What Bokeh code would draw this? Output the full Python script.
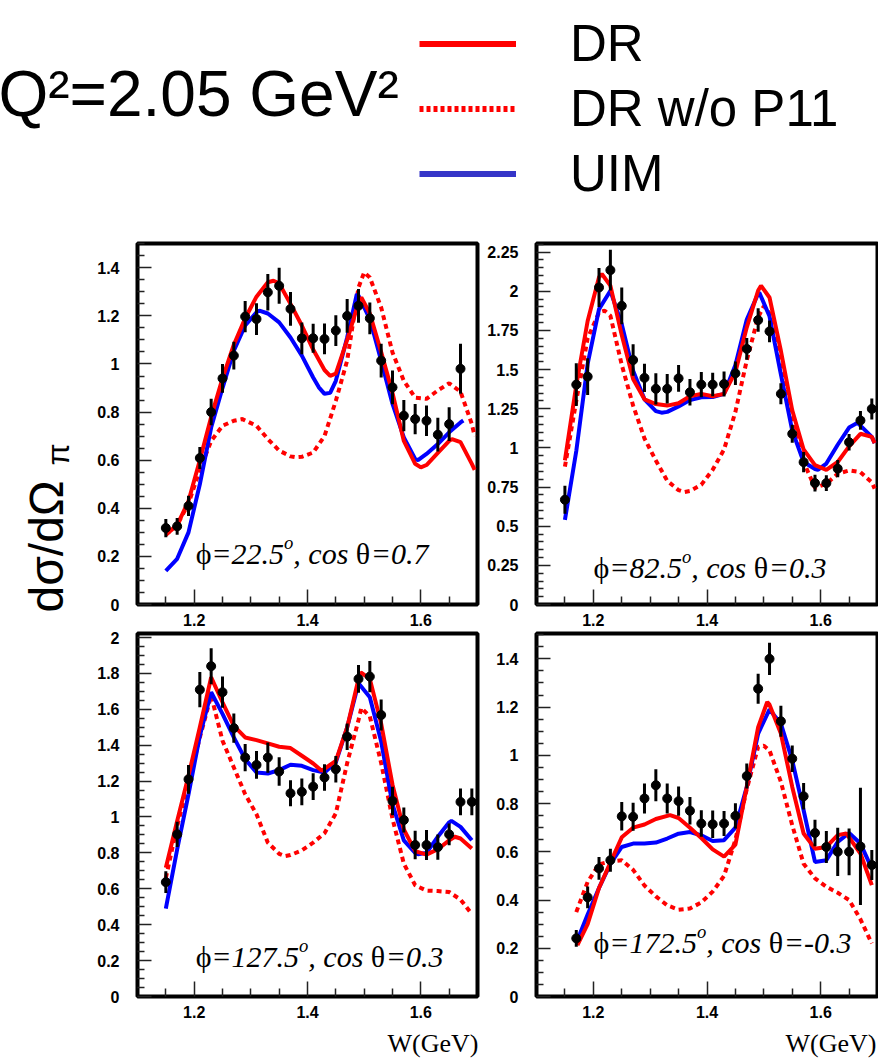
import numpy as np
from bokeh.plotting import figure
from bokeh.layouts import column, row
from bokeh.models import Range1d, FixedTicker, CustomJSTickFormatter, Legend, LegendItem
from bokeh.core.properties import value
from bokeh.embed import file_html
from bokeh.resources import INLINE

# ---------------- texts ----------------
title_text = "Q\u00b2=2.05 GeV\u00b2"
legend_labels = ["DR", "DR w/o P11", "UIM"]
x_title = "W(GeV)"
y_title = "d\u03c3/d\u03a9"
y_title_sub = "\u03c0"
phi_labels = ["22.5", "82.5", "127.5", "172.5"]
cos_labels = ["0.7", "0.3", "0.3", "-0.3"]

x_major_ticks = [1.2, 1.4, 1.6]
x_minor_ticks = [1.15, 1.25, 1.3, 1.35, 1.45, 1.5, 1.55, 1.65]

# ---------------- data: top-left (phi=22.5, cos=0.7) ----------------
w_pts_tl = [1.15,1.17,1.19,1.21,1.23,1.25,1.27,1.29,1.31,1.33,1.35,1.37,1.39,1.41,1.43,1.45,1.47,1.49,1.51,1.53,1.55,1.57,1.59,1.61,1.63,1.65,1.67]
y_pts_tl = [0.318,0.325,0.41,0.609,0.80,0.94,1.035,1.197,1.187,1.298,1.325,1.229,1.107,1.107,1.104,1.139,1.20,1.242,1.19,1.014,0.903,0.785,0.771,0.764,0.706,0.75,0.98]
e_pts_tl = [0.038,0.035,0.042,0.046,0.055,0.06,0.058,0.065,0.066,0.076,0.075,0.07,0.066,0.06,0.064,0.064,0.07,0.07,0.066,0.07,0.07,0.065,0.063,0.063,0.07,0.07,0.104]
w_tl_dr = [1.15,1.17,1.19,1.21,1.23,1.25,1.27,1.29,1.31,1.33,1.34,1.35,1.37,1.39,1.41,1.43,1.44,1.45,1.47,1.49,1.495,1.51,1.53,1.55,1.57,1.59,1.60,1.61,1.63,1.65,1.655,1.67,1.69,1.695]
y_tl_dr = [0.29,0.33,0.43,0.60,0.78,0.94,1.08,1.19,1.28,1.34,1.346,1.335,1.25,1.16,1.06,0.975,0.951,0.96,1.10,1.255,1.277,1.21,1.05,0.88,0.68,0.585,0.57,0.58,0.63,0.68,0.688,0.675,0.585,0.56]
w_tl_uim = [1.15,1.17,1.19,1.21,1.23,1.25,1.27,1.29,1.31,1.315,1.33,1.35,1.37,1.39,1.41,1.42,1.43,1.44,1.45,1.47,1.487,1.49,1.51,1.53,1.55,1.57,1.59,1.595,1.61,1.63,1.65,1.67,1.675]
y_tl_uim = [0.14,0.19,0.30,0.50,0.736,0.90,1.055,1.16,1.215,1.222,1.21,1.173,1.11,1.035,0.944,0.903,0.876,0.88,0.93,1.11,1.29,1.284,1.187,1.014,0.834,0.695,0.605,0.60,0.626,0.667,0.716,0.757,0.765]
w_tl_nop11 = [1.15,1.17,1.19,1.21,1.23,1.25,1.27,1.285,1.31,1.33,1.35,1.37,1.38,1.39,1.41,1.43,1.45,1.47,1.49,1.50,1.51,1.53,1.55,1.57,1.59,1.61,1.63,1.65,1.67,1.69,1.695]
y_tl_nop11 = [0.29,0.33,0.42,0.56,0.68,0.743,0.764,0.771,0.743,0.688,0.64,0.616,0.612,0.614,0.632,0.70,0.847,1.014,1.318,1.381,1.36,1.235,1.048,0.93,0.86,0.855,0.89,0.92,0.885,0.75,0.70]

# ---------------- data: top-right (phi=82.5, cos=0.3) ----------------
w_pts_tr = [1.15,1.17,1.19,1.21,1.23,1.25,1.27,1.29,1.31,1.33,1.35,1.37,1.39,1.41,1.43,1.45,1.47,1.49,1.51,1.53,1.55,1.57,1.59,1.61,1.63,1.65,1.67,1.69]
y_pts_tr = [0.669,1.404,1.455,2.024,2.135,1.907,1.561,1.447,1.377,1.377,1.444,1.355,1.404,1.404,1.408,1.476,1.632,1.816,1.744,1.345,1.09,0.909,0.775,0.775,0.867,1.036,1.175,1.249]
e_pts_tr = [0.09,0.136,0.117,0.125,0.13,0.117,0.10,0.09,0.10,0.094,0.085,0.085,0.08,0.075,0.08,0.075,0.07,0.075,0.07,0.067,0.058,0.064,0.053,0.05,0.055,0.053,0.06,0.067]
w_tr_dr = [1.15,1.17,1.19,1.21,1.215,1.23,1.25,1.27,1.29,1.31,1.33,1.35,1.37,1.39,1.41,1.43,1.45,1.47,1.49,1.495,1.51,1.53,1.55,1.57,1.59,1.61,1.63,1.65,1.67,1.69,1.695]
y_tr_dr = [0.92,1.40,1.81,2.09,2.11,2.036,1.72,1.44,1.31,1.28,1.27,1.285,1.33,1.345,1.33,1.345,1.485,1.77,2.005,2.035,1.96,1.62,1.24,0.99,0.89,0.86,0.91,1.01,1.09,1.07,1.03]
w_tr_uim = [1.15,1.17,1.19,1.21,1.23,1.25,1.27,1.29,1.31,1.32,1.33,1.35,1.37,1.39,1.41,1.43,1.45,1.47,1.49,1.492,1.51,1.53,1.55,1.57,1.59,1.595,1.61,1.63,1.65,1.665,1.69,1.695]
y_tr_uim = [0.54,0.98,1.536,1.886,2.003,1.79,1.493,1.31,1.235,1.225,1.23,1.265,1.305,1.323,1.325,1.345,1.53,1.82,1.985,1.992,1.84,1.47,1.11,0.91,0.865,0.86,0.90,1.02,1.13,1.16,1.07,1.03]
w_tr_nop11 = [1.15,1.17,1.19,1.21,1.22,1.23,1.25,1.27,1.29,1.31,1.33,1.35,1.36,1.37,1.39,1.41,1.43,1.45,1.47,1.49,1.50,1.51,1.53,1.55,1.57,1.59,1.61,1.63,1.65,1.67,1.69,1.695]
y_tr_nop11 = [0.88,1.30,1.70,1.865,1.876,1.844,1.53,1.27,1.06,0.92,0.79,0.73,0.718,0.725,0.765,0.86,0.99,1.23,1.56,1.835,1.905,1.86,1.555,1.18,0.91,0.745,0.77,0.835,0.856,0.845,0.78,0.74]

# ---------------- data: bottom-left (phi=127.5, cos=0.3) ----------------
w_pts_bl = [1.15,1.17,1.19,1.21,1.23,1.25,1.27,1.29,1.31,1.33,1.35,1.37,1.39,1.41,1.43,1.45,1.47,1.49,1.51,1.53,1.55,1.57,1.59,1.61,1.63,1.65,1.67,1.69]
y_pts_bl = [0.637,0.903,1.21,1.709,1.84,1.695,1.495,1.331,1.29,1.331,1.253,1.132,1.14,1.169,1.22,1.266,1.447,1.769,1.782,1.568,1.089,0.983,0.844,0.844,0.832,0.903,1.084,1.084]
e_pts_bl = [0.06,0.07,0.08,0.098,0.10,0.087,0.081,0.076,0.077,0.084,0.079,0.072,0.074,0.074,0.074,0.074,0.074,0.077,0.087,0.086,0.079,0.07,0.079,0.084,0.07,0.06,0.074,0.074]
w_bl_dr = [1.15,1.17,1.19,1.21,1.23,1.25,1.27,1.29,1.31,1.33,1.35,1.37,1.39,1.41,1.425,1.45,1.47,1.49,1.494,1.51,1.53,1.55,1.57,1.59,1.61,1.63,1.65,1.66,1.67,1.69]
y_bl_dr = [0.717,0.978,1.23,1.50,1.778,1.639,1.508,1.443,1.428,1.41,1.391,1.384,1.341,1.298,1.257,1.313,1.499,1.769,1.806,1.769,1.52,1.18,0.93,0.81,0.79,0.82,0.87,0.89,0.88,0.825]
w_bl_uim = [1.15,1.17,1.19,1.21,1.23,1.25,1.27,1.29,1.31,1.33,1.35,1.37,1.39,1.41,1.43,1.45,1.47,1.49,1.51,1.53,1.55,1.57,1.59,1.595,1.61,1.63,1.65,1.654,1.67,1.69]
y_bl_uim = [0.49,0.82,1.126,1.452,1.695,1.574,1.443,1.322,1.248,1.242,1.261,1.291,1.285,1.261,1.248,1.304,1.499,1.745,1.667,1.42,1.07,0.87,0.80,0.792,0.80,0.89,0.97,0.978,0.945,0.87]
w_bl_nop11 = [1.15,1.17,1.19,1.21,1.23,1.25,1.27,1.29,1.31,1.33,1.35,1.36,1.37,1.39,1.41,1.43,1.45,1.47,1.49,1.495,1.51,1.53,1.55,1.57,1.59,1.61,1.63,1.65,1.67,1.69]
y_bl_nop11 = [0.66,0.95,1.19,1.443,1.676,1.425,1.276,1.127,1.015,0.857,0.795,0.782,0.788,0.814,0.857,0.91,1.02,1.30,1.54,1.607,1.56,1.30,0.99,0.74,0.62,0.59,0.587,0.582,0.54,0.46]

# ---------------- data: bottom-right (phi=172.5, cos=-0.3) ----------------
w_pts_br = [1.17,1.19,1.21,1.23,1.25,1.27,1.29,1.31,1.33,1.35,1.37,1.39,1.41,1.43,1.45,1.47,1.49,1.51,1.53,1.55,1.57,1.59,1.61,1.63,1.65,1.67,1.69]
y_pts_br = [0.241,0.411,0.531,0.565,0.747,0.745,0.821,0.876,0.821,0.81,0.77,0.717,0.714,0.717,0.749,0.914,1.276,1.40,1.141,0.986,0.83,0.678,0.62,0.60,0.60,0.622,0.545]
e_pts_br = [0.035,0.045,0.047,0.048,0.059,0.058,0.062,0.066,0.062,0.061,0.057,0.055,0.057,0.052,0.052,0.052,0.062,0.067,0.064,0.055,0.055,0.055,0.066,0.10,0.097,0.243,0.062]
w_br_dr = [1.172,1.19,1.21,1.23,1.25,1.27,1.29,1.31,1.335,1.35,1.37,1.39,1.41,1.43,1.45,1.47,1.49,1.506,1.51,1.53,1.55,1.57,1.59,1.61,1.63,1.645,1.67,1.69]
y_br_dr = [0.213,0.30,0.45,0.555,0.66,0.70,0.713,0.736,0.752,0.74,0.70,0.657,0.61,0.58,0.63,0.87,1.117,1.221,1.21,1.09,0.869,0.676,0.613,0.62,0.669,0.676,0.593,0.462]
w_br_uim = [1.172,1.19,1.21,1.23,1.25,1.27,1.29,1.31,1.33,1.35,1.37,1.39,1.41,1.43,1.45,1.47,1.49,1.51,1.53,1.55,1.57,1.59,1.61,1.63,1.65,1.67,1.69]
y_br_uim = [0.234,0.34,0.45,0.55,0.62,0.634,0.634,0.638,0.655,0.675,0.682,0.668,0.645,0.648,0.70,0.87,1.09,1.19,1.131,0.979,0.772,0.558,0.565,0.641,0.678,0.634,0.531]
w_br_nop11 = [1.17,1.19,1.21,1.23,1.25,1.27,1.29,1.31,1.33,1.35,1.37,1.39,1.41,1.43,1.45,1.47,1.49,1.50,1.51,1.53,1.55,1.57,1.59,1.61,1.63,1.65,1.67,1.69]
y_br_nop11 = [0.35,0.475,0.548,0.56,0.565,0.525,0.46,0.415,0.378,0.36,0.365,0.39,0.435,0.50,0.65,0.86,1.035,1.04,1.02,0.89,0.71,0.55,0.49,0.455,0.43,0.40,0.32,0.22]

# ---------------- style ----------------
RED = "#ff0000"
BLUE = "#0000ff"
LEG_BLUE = "#3535c8"
SANS = "Liberation Sans"
SERIF = "Liberation Serif"
BASE_FIX = 0.34  # alphabetic-baseline correction of the svg backend (in em)

fmt_code = r'return tick.toFixed(2).replace(/\.?0+$/, "");'


def blank_fig(width, height):
    f = figure(width=width, height=height, x_range=Range1d(0, width), y_range=Range1d(0, height),
               output_backend="svg", toolbar_location=None, x_axis_type=None, y_axis_type=None,
               title=None, min_border_left=0, min_border_right=0, min_border_top=0, min_border_bottom=0)
    f.grid.visible = False
    f.outline_line_color = None
    f.background_fill_color = "white"
    f.border_fill_color = "white"
    return f


def make_panel(width, height, mbl, mbr, mbt, mbb, y_end, y_major):
    p = figure(width=width, height=height, x_range=Range1d(1.1, 1.7), y_range=Range1d(0, y_end),
               output_backend="svg", toolbar_location=None, title=None,
               min_border_left=mbl, min_border_right=mbr, min_border_top=mbt, min_border_bottom=mbb)
    p.grid.visible = False
    p.background_fill_color = "white"
    p.border_fill_color = "white"
    p.outline_line_color = "black"
    p.outline_line_width = 4
    p.outline_line_alpha = 1.0
    y_minor = [round(v, 3) for v in np.arange(0, y_end + 1e-9, 0.05) if min(abs(v - t) for t in y_major) > 1e-6]
    p.xaxis.ticker = FixedTicker(ticks=x_major_ticks, minor_ticks=x_minor_ticks)
    p.yaxis.ticker = FixedTicker(ticks=y_major, minor_ticks=y_minor)
    for ax in (p.xaxis[0], p.yaxis[0]):
        ax.axis_line_color = None
        ax.major_tick_out = 0
        ax.minor_tick_out = 0
        ax.major_tick_line_color = "#222222"
        ax.minor_tick_line_color = "#222222"
        ax.major_tick_line_width = 1.5
        ax.minor_tick_line_width = 1.5
        ax.major_label_text_font = SANS
        ax.major_label_text_font_style = "bold"
        ax.major_label_text_font_size = "16px"
        ax.major_label_text_color = "black"
        ax.formatter = CustomJSTickFormatter(code=fmt_code)
    p.xaxis.major_tick_in = 15
    p.xaxis.minor_tick_in = 8
    p.yaxis.major_tick_in = 14
    p.yaxis.minor_tick_in = 7
    p.xaxis.major_label_standoff = 9
    p.yaxis.major_label_standoff = 18
    return p


IT_W = {'=': 0.675, '.': 0.25, ',': 0.25, ' ': 0.25, 'c': 0.444, 'o': 0.5, 's': 0.389, '-': 0.333}
UP_W = {'\u03d5': 0.52, '\u03b8': 0.5}


def seg_width(t, style, size):
    tab = UP_W if style == "normal" else IT_W
    return sum(tab.get(ch, 0.5) for ch in t) * size


def annotate(p, x, y, phi, cth, size=30):
    segs = [("\u03d5", "normal", 1.0, 0),
            ("=" + phi, "italic", 1.0, 0),
            ("o", "italic", 0.62, 11),
            (", cos ", "italic", 1.0, 0),
            ("\u03b8", "normal", 1.0, 0),
            ("=" + cth, "italic", 1.0, 0)]
    off = 0.0
    for t, st, sc, up in segs:
        fs = size * sc
        p.text(x=[x], y=[y], text=[t], x_offset=off, y_offset=-(up + BASE_FIX * size),
               text_font=value(SERIF), text_font_style=st, text_font_size=f"{fs:.1f}px",
               text_color="black", text_align="left", text_baseline="alphabetic")
        off += seg_width(t, st, fs)


def draw(p, wp, yp, ep, wn, yn, wu, yu, wd, yd):
    p.line(wn, yn, line_color=RED, line_width=4, line_dash="5 4")
    p.line(wu, yu, line_color=BLUE, line_width=4)
    p.line(wd, yd, line_color=RED, line_width=4)
    lo = [a - b for a, b in zip(yp, ep)]
    hi = [a + b for a, b in zip(yp, ep)]
    p.segment(x0=wp, y0=lo, x1=wp, y1=hi, line_color="black", line_width=3)
    p.scatter(wp, yp, marker="circle", size=9, fill_color="black", line_color="black")


# ---------------- header with title and legend ----------------
header = blank_fig(878, 230)
header.text(x=[-2], y=[115], text=[title_text], text_font=value(SANS), text_font_size="64px",
            y_offset=-BASE_FIX * 64,
            text_color="black", text_baseline="alphabetic", text_align="left")
r_dr = header.line(x=[-60, -50], y=[-60, -60], line_color=RED, line_width=6)
r_np = header.line(x=[-60, -50], y=[-60, -60], line_color=RED, line_width=6, line_dash="4 3")
r_ui = header.line(x=[-60, -50], y=[-60, -60], line_color=LEG_BLUE, line_width=6)
legend = Legend(items=[LegendItem(label=legend_labels[0], renderers=[r_dr]),
                       LegendItem(label=legend_labels[1], renderers=[r_np]),
                       LegendItem(label=legend_labels[2], renderers=[r_ui])],
                location=(419, 26), orientation="vertical", glyph_width=97, glyph_height=61,
                label_height=61, spacing=4, label_standoff=54, padding=0, margin=0,
                border_line_color=None, background_fill_alpha=0,
                label_text_font=SANS, label_text_font_size="51px", label_text_color="black")
header.add_layout(legend)

# ---------------- panels ----------------
tl = make_panel(405, 401, 62, 3, 13, 27, 1.501, [0, 0.2, 0.4, 0.6, 0.8, 1.0, 1.2, 1.4])
tr = make_panel(398, 401, 56, 1, 13, 27, 2.305, [0, 0.25, 0.5, 0.75, 1.0, 1.25, 1.5, 1.75, 2.0, 2.25])
bl = make_panel(405, 396, 62, 3, 2, 31, 2.022, [0, 0.2, 0.4, 0.6, 0.8, 1.0, 1.2, 1.4, 1.6, 1.8, 2.0])
br = make_panel(398, 396, 56, 1, 2, 31, 1.505, [0, 0.2, 0.4, 0.6, 0.8, 1.0, 1.2, 1.4])

draw(tl, w_pts_tl, y_pts_tl, e_pts_tl, w_tl_nop11, y_tl_nop11, w_tl_uim, y_tl_uim, w_tl_dr, y_tl_dr)
draw(tr, w_pts_tr, y_pts_tr, e_pts_tr, w_tr_nop11, y_tr_nop11, w_tr_uim, y_tr_uim, w_tr_dr, y_tr_dr)
draw(bl, w_pts_bl, y_pts_bl, e_pts_bl, w_bl_nop11, y_bl_nop11, w_bl_uim, y_bl_uim, w_bl_dr, y_bl_dr)
draw(br, w_pts_br, y_pts_br, e_pts_br, w_br_nop11, y_br_nop11, w_br_uim, y_br_uim, w_br_dr, y_br_dr)

annotate(tl, 1.2027, 0.17, phi_labels[0], cos_labels[0])
annotate(tr, 1.2004, 0.174, phi_labels[1], cos_labels[1])
annotate(bl, 1.2027, 0.168, phi_labels[2], cos_labels[2])
annotate(br, 1.2004, 0.18, phi_labels[3], cos_labels[3])

# ---------------- left strip with the rotated y title ----------------
ystrip = blank_fig(75, 797)
ystrip.text(x=[62], y=[415], text=[y_title], angle=np.pi / 2, text_font=value(SANS),
            x_offset=-BASE_FIX * 48,
            text_font_size="48px", text_color="black", text_baseline="alphabetic", text_align="left")
ystrip.text(x=[68], y=[562], text=[y_title_sub], angle=np.pi / 2, text_font=value(SANS),
            x_offset=-BASE_FIX * 32,
            text_font_size="32px", text_color="black", text_baseline="alphabetic", text_align="left")

# ---------------- bottom strip with the x titles ----------------
xstrip = blank_fig(878, 33)
xstrip.text(x=[478, 876], y=[8, 8], text=[x_title, x_title], text_font=value(SERIF),
            y_offset=-BASE_FIX * 26,
            text_font_size="26px", text_color="black", text_baseline="alphabetic", text_align="right")

layout = column(header, row(ystrip, column(row(tl, tr), row(bl, br))), xstrip)
open("out.html", "w").write(file_html(layout, INLINE))
